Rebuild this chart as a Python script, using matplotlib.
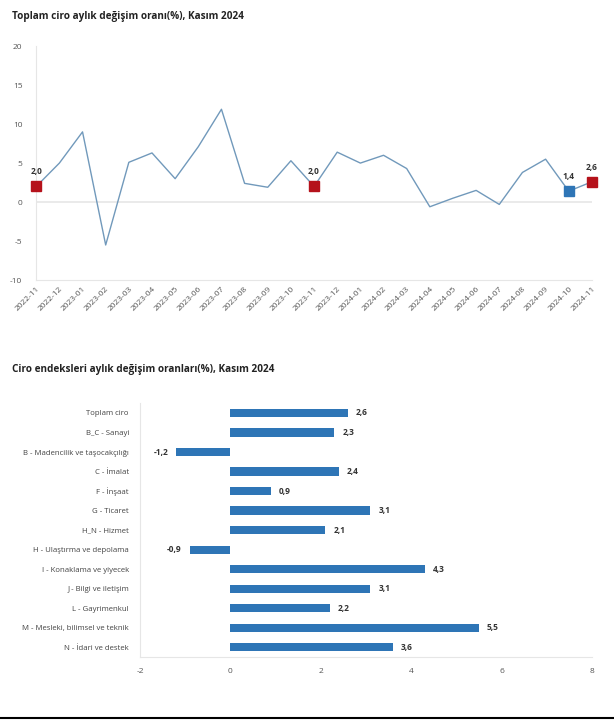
import matplotlib
matplotlib.use("Agg")
import matplotlib.pyplot as plt
from matplotlib.lines import Line2D

plt.rcParams["font.family"] = ["Open Sans", "DejaVu Sans"]
plt.rcParams["axes.unicode_minus"] = False

# Monthly turnover change (%)
months = ["2022-11", "2022-12", "2023-01", "2023-02", "2023-03", "2023-04", "2023-05",
          "2023-06", "2023-07", "2023-08", "2023-09", "2023-10", "2023-11", "2023-12",
          "2024-01", "2024-02", "2024-03", "2024-04", "2024-05", "2024-06", "2024-07",
          "2024-08", "2024-09", "2024-10", "2024-11"]
change = [2.0, 5.0, 9.0, -5.5, 5.1, 6.3, 3.0, 7.1, 11.9, 2.4, 1.9, 5.3, 2.0, 6.4,
          5.0, 6.0, 4.3, -0.6, 0.5, 1.5, -0.3, 3.8, 5.5, 1.4, 2.6]
red_marks = ["2022-11", "2023-11", "2024-11"]
blue_marks = ["2024-10"]

# Sector indices, Nov 2024
sectors = ["Toplam ciro", "B_C - Sanayi", "B - Madencilik ve taşocakçılığı", "C - İmalat",
           "F - İnşaat", "G - Ticaret", "H_N - Hizmet", "H - Ulaştırma ve depolama",
           "I - Konaklama ve yiyecek", "J - Bilgi ve iletişim", "L - Gayrimenkul",
           "M - Mesleki, bilimsel ve teknik", "N - İdari ve destek"]
sector_vals = [2.6, 2.3, -1.2, 2.4, 0.9, 3.1, 2.1, -0.9, 4.3, 3.1, 2.2, 5.5, 3.6]

RED = "#b5121b"
BLUE = "#2e75b6"
GRID = "#e6e6e6"
TICK = "#555555"


def fmt(v):
    return f"{v:.1f}".replace(".", ",")


fig = plt.figure(figsize=(6.14, 7.2), dpi=100)

# ---- top: line chart
ax1 = fig.add_axes([0.059, 0.611, 0.905, 0.325])
x = list(range(len(months)))
ax1.plot(x, change, color="#7199bb", lw=1.0, zorder=2)
for m in red_marks + blue_marks:
    i = months.index(m)
    c = RED if m in red_marks else BLUE
    ax1.plot(i, change[i], marker="s", ms=7.5, color=c, zorder=3, clip_on=False)
    ax1.text(i, change[i] + 1.3, fmt(change[i]), ha="center", va="bottom",
             fontsize=6, fontweight="bold", color="#333333")
ax1.axhline(0, color=GRID, lw=1.2, zorder=1)
ax1.set_xlim(0, len(months) - 1)
ax1.set_ylim(-10, 20)
ax1.set_yticks([-10, -5, 0, 5, 10, 15, 20])
ax1.set_xticks(x)
ax1.set_xticklabels(months, rotation=45, ha="right", rotation_mode="anchor")
ax1.tick_params(length=0, labelsize=6, labelcolor=TICK, pad=4)
ax1.tick_params(axis="y", pad=10)
for s in ["top", "right"]:
    ax1.spines[s].set_visible(False)
for s in ["left", "bottom"]:
    ax1.spines[s].set_color(GRID)
fig.text(0.02, 0.985, "Toplam ciro aylık değişim oranı(%), Kasım 2024",
         fontsize=7.2, fontweight="bold", color="#222222", va="top")

# ---- bottom: bar chart
ax2 = fig.add_axes([0.228, 0.0875, 0.736, 0.3525])
y = list(range(len(sectors)))
ax2.barh(y, sector_vals, height=0.42, color=BLUE, zorder=2)
for yi, v in zip(y, sector_vals):
    if v >= 0:
        ax2.text(v + 0.18, yi, fmt(v), ha="left", va="center", fontsize=6,
                 fontweight="bold", color="#333333")
    else:
        ax2.text(v - 0.18, yi, fmt(v), ha="right", va="center", fontsize=6,
                 fontweight="bold", color="#333333")
ax2.set_xlim(-2, 8)
ax2.set_ylim(len(sectors) - 0.5, -0.5)
ax2.set_xticks([-2, 0, 2, 4, 6, 8])
ax2.set_yticks(y)
ax2.set_yticklabels(sectors)
ax2.tick_params(length=0, labelsize=6, labelcolor=TICK)
ax2.tick_params(axis="x", pad=8)
ax2.tick_params(axis="y", pad=8, labelsize=5.6, labelcolor="#444444")
for s in ["top", "right"]:
    ax2.spines[s].set_visible(False)
for s in ["left", "bottom"]:
    ax2.spines[s].set_color(GRID)
fig.text(0.02, 0.495, "Ciro endeksleri aylık değişim oranları(%), Kasım 2024",
         fontsize=7.2, fontweight="bold", color="#222222", va="top")

fig.add_artist(Line2D([0, 1], [0.003, 0.003], color="black", lw=1.5,
                      transform=fig.transFigure))

fig.savefig("out.png", dpi=100)
